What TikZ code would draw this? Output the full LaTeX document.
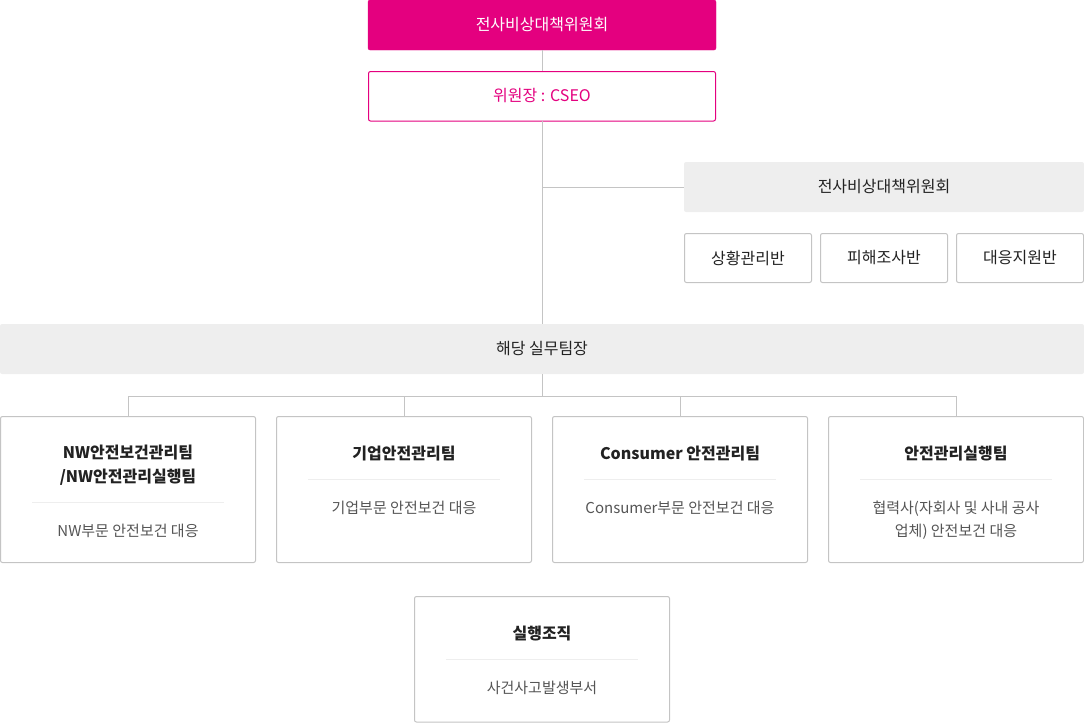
\documentclass[tikz,border=0pt]{standalone}
\usepackage{fontspec}
\setmainfont{Noto Sans CJK KR}
\definecolor{skmag}{HTML}{E4007F}
\definecolor{skgray}{HTML}{EEEEEE}
\definecolor{skline}{HTML}{C4C4C4}
\definecolor{sktext}{HTML}{222222}
\definecolor{skdesc}{HTML}{555555}
\tikzset{
  topbox/.style={fill=skmag,draw=skmag,rounded corners=2pt},
  chairbox/.style={draw=skmag,line width=1pt,fill=white,rounded corners=2pt},
  graybox/.style={fill=skgray,rounded corners=2pt},
  subbox/.style={draw=skline,line width=1pt,fill=white,rounded corners=2pt},
  teambox/.style={draw=skline,line width=1pt,fill=white,rounded corners=2pt},
  lbl/.style={text=sktext,font=\fontsize{16}{19}\selectfont},
  teamtitle/.style={text=sktext,font=\bfseries\fontsize{16}{24}\selectfont,align=center},
  teamdesc/.style={text=skdesc,font=\fontsize{15}{23}\selectfont,align=center},
  sep/.style={draw=skgray,line width=1pt},
  conn/.style={draw=skline,line width=1pt}
}
\begin{document}
\begin{tikzpicture}[x=1pt,y=-1pt]
  \useasboundingbox (0,0) rectangle (1084,723);
  % upper part
  \draw[topbox] (368,0) rectangle (716,50);
  \node[lbl,text=white] (top) at (542,25) {전사비상대책위원회};
  \draw[chairbox] (368.5,71.5) rectangle (715.5,121);
  \node[lbl,text=skmag] (chair) at (542,96) {위원장 : CSEO};
  \coordinate (topb) at (542,50);
  \coordinate (chairt) at (542,71);
  \coordinate (chairb) at (542,121);
  \coordinate (split) at (542,187);
  \fill[graybox] (684,162) rectangle (1084,212);
  \node[lbl] (hq) at (884,187) {전사비상대책위원회};
  \coordinate (hql) at (684,187);
  \foreach \x/\name/\txt in {684/s1/상황관리반,820/s2/피해조사반,956/s3/대응지원반}{
    \draw[subbox] (\x+0.5,233.5) rectangle (\x+127.5,282.5);
    \node[lbl] (\name) at (\x+64,258) {\txt};
  }
  \fill[graybox] (0,324) rectangle (1084,374);
  \node[lbl] (lead) at (542,349) {해당 실무팀장};
  \coordinate (leadt) at (542,324);
  \coordinate (leadb) at (542,374);
  \coordinate (bus) at (542,396);
  % connectors
  \draw[conn] (topb) -- (chairt);
  \draw[conn] (chairb) -- (leadt);
  \draw[conn] (split) -- (hql);
  \draw[conn] (leadb) -- (bus);
  \draw[conn] (128,396) -- (956,396);
  % teams
  \foreach \x/\name in {0/t1,276/t2,552/t3,828/t4}{
    \draw[teambox] (\x+0.5,416.5) rectangle (\x+255.5,562.5);
    \coordinate (\name) at (\x+128,416);
    \draw[conn] (\x+128,396) -- (\name);
  }
  \node[teamtitle] (t1title) at (128,465) {NW안전보건관리팀\\/NW안전관리실행팀};
  \draw[sep] (32,502) -- (224,502);
  \node[teamdesc] (t1desc) at (128,531) {NW부문 안전보건 대응};
  \node[teamtitle] (t2title) at (404,454) {기업안전관리팀};
  \draw[sep] (308,479) -- (500,479);
  \node[teamdesc] (t2desc) at (404,508) {기업부문 안전보건 대응};
  \node[teamtitle] (t3title) at (680,454) {Consumer 안전관리팀};
  \draw[sep] (584,479) -- (776,479);
  \node[teamdesc] (t3desc) at (680,508) {Consumer부문 안전보건 대응};
  \node[teamtitle] (t4title) at (956,454) {안전관리실행팀};
  \draw[sep] (860,479) -- (1052,479);
  \node[teamdesc] (t4desc) at (956,520) {협력사(자회사 및 사내 공사\\업체) 안전보건 대응};
  % bottom
  \draw[teambox] (414.5,596.5) rectangle (669.5,722);
  \node[teamtitle] (exec) at (542,634) {실행조직};
  \draw[sep] (446,659) -- (638,659);
  \node[teamdesc] (execdesc) at (542,688) {사건사고발생부서};
\end{tikzpicture}
\end{document}
